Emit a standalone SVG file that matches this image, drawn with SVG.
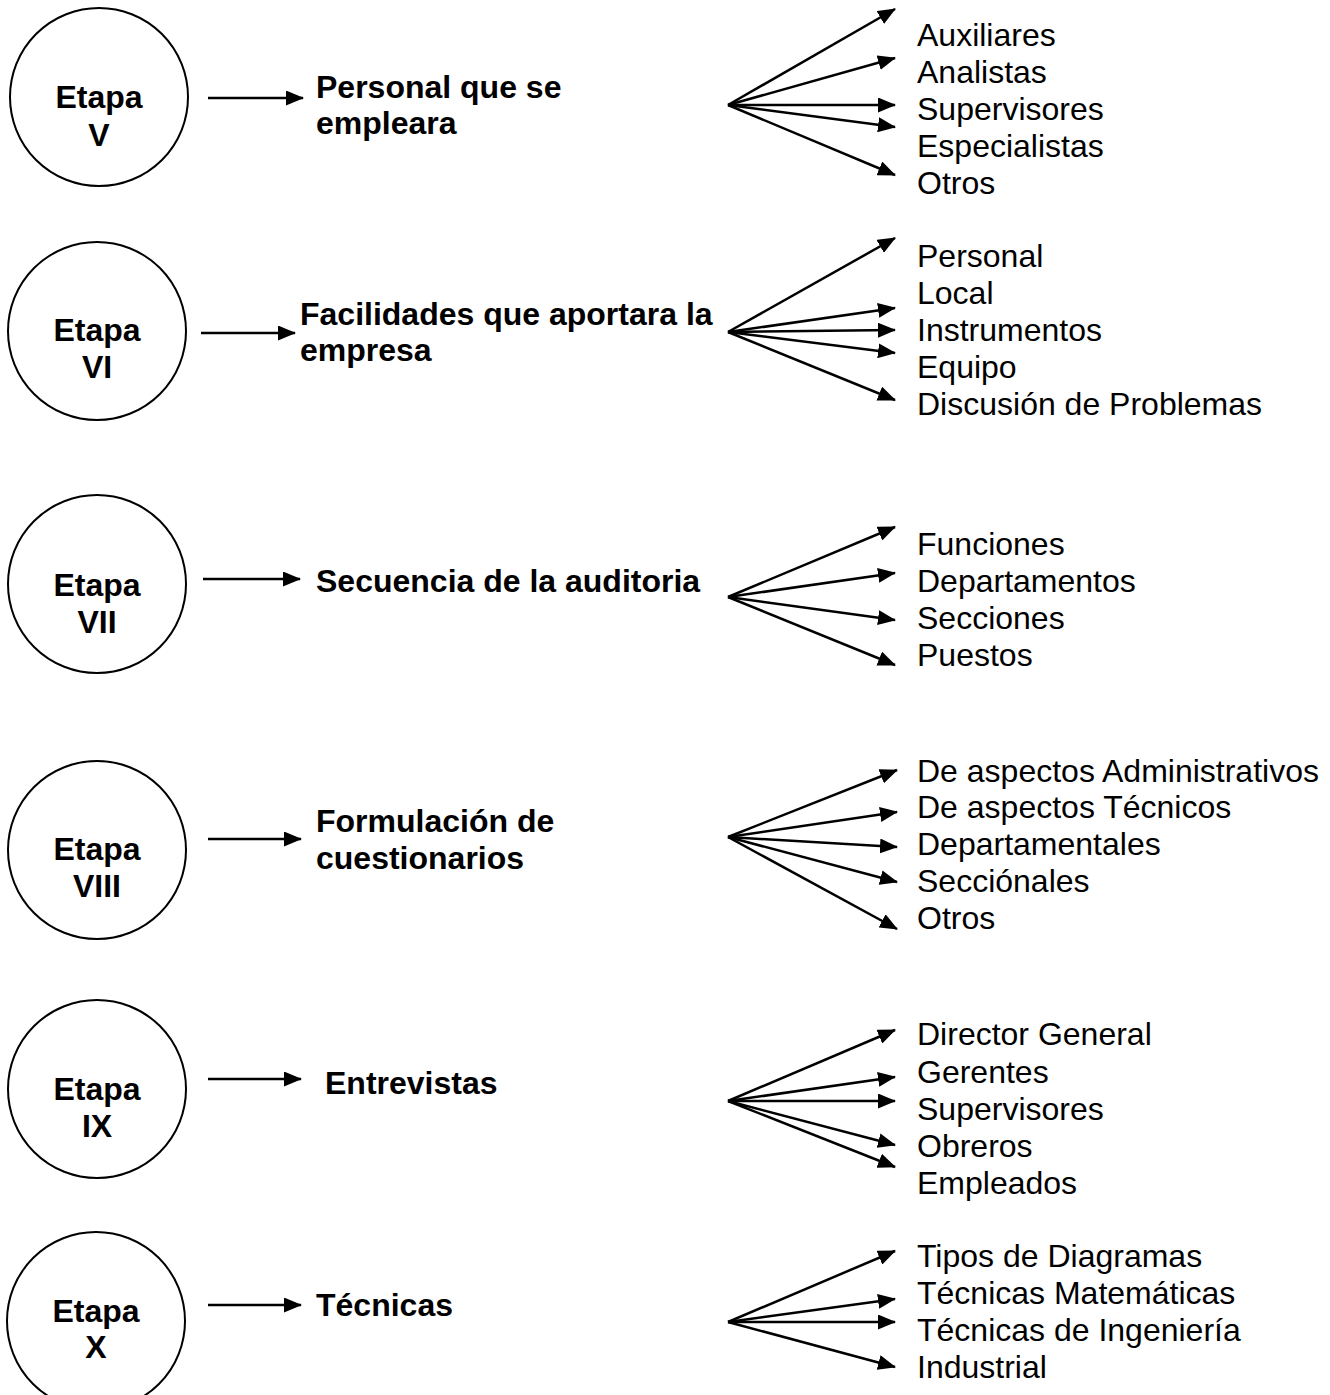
<svg xmlns="http://www.w3.org/2000/svg" width="1330" height="1395" viewBox="0 0 1330 1395">
<style>
.stage{fill:#fff;stroke:#000;stroke-width:2}
.lbl{font-family:"Liberation Sans",Arial,sans-serif;font-size:32px;fill:#000}
.b{font-weight:bold}
.c{text-anchor:middle}
.arr{stroke:#000;stroke-width:2.5;fill:none;marker-end:url(#ah)}
</style>
<defs>
<marker id="ah" viewBox="0 0 18 15" refX="17" refY="7.5" markerWidth="18" markerHeight="15" markerUnits="userSpaceOnUse" orient="auto">
<path d="M0,0 L18,7.5 L0,15 z" fill="#000"/>
</marker>
</defs>
<rect width="1330" height="1395" fill="#fff"/>

<g id="connectors">
<line class="arr" x1="208" y1="98" x2="303" y2="98"/>
<line class="arr" x1="728" y1="105" x2="895" y2="9"/>
<line class="arr" x1="728" y1="105" x2="895" y2="58"/>
<line class="arr" x1="728" y1="105" x2="895" y2="105"/>
<line class="arr" x1="728" y1="105" x2="895" y2="127"/>
<line class="arr" x1="728" y1="105" x2="895" y2="175"/>

<line class="arr" x1="201" y1="333" x2="295" y2="333"/>
<line class="arr" x1="728" y1="332" x2="895" y2="238"/>
<line class="arr" x1="728" y1="332" x2="895" y2="308"/>
<line class="arr" x1="728" y1="332" x2="895" y2="330"/>
<line class="arr" x1="728" y1="332" x2="895" y2="353"/>
<line class="arr" x1="728" y1="332" x2="895" y2="400"/>

<line class="arr" x1="203" y1="579" x2="300" y2="579"/>
<line class="arr" x1="728" y1="597" x2="895" y2="527"/>
<line class="arr" x1="728" y1="597" x2="895" y2="573"/>
<line class="arr" x1="728" y1="597" x2="895" y2="620"/>
<line class="arr" x1="728" y1="597" x2="895" y2="665"/>

<line class="arr" x1="208" y1="839" x2="301" y2="839"/>
<line class="arr" x1="728" y1="837" x2="897" y2="770"/>
<line class="arr" x1="728" y1="837" x2="897" y2="812"/>
<line class="arr" x1="728" y1="837" x2="897" y2="847"/>
<line class="arr" x1="728" y1="837" x2="897" y2="882"/>
<line class="arr" x1="728" y1="837" x2="897" y2="929"/>

<line class="arr" x1="208" y1="1079" x2="301" y2="1079"/>
<line class="arr" x1="728" y1="1101" x2="895" y2="1030"/>
<line class="arr" x1="728" y1="1101" x2="895" y2="1077"/>
<line class="arr" x1="728" y1="1101" x2="895" y2="1101"/>
<line class="arr" x1="728" y1="1101" x2="895" y2="1145"/>
<line class="arr" x1="728" y1="1101" x2="895" y2="1167"/>

<line class="arr" x1="208" y1="1305" x2="301" y2="1305"/>
<line class="arr" x1="728" y1="1322" x2="895" y2="1251"/>
<line class="arr" x1="728" y1="1322" x2="895" y2="1299"/>
<line class="arr" x1="728" y1="1322" x2="895" y2="1322"/>
<line class="arr" x1="728" y1="1322" x2="895" y2="1367"/>
</g>

<g id="etapa-v">
<circle class="stage" cx="99" cy="97" r="89"/>
<text class="lbl b c" x="99" y="108">Etapa</text>
<text class="lbl b c" x="99" y="146">V</text>
</g>
<g id="personal">
<text class="lbl b" x="316" y="98">Personal que se</text>
<text class="lbl b" x="316" y="134">empleara</text>
</g>
<g id="items-v">
<text class="lbl" x="917" y="46">Auxiliares</text>
<text class="lbl" x="917" y="83">Analistas</text>
<text class="lbl" x="917" y="120">Supervisores</text>
<text class="lbl" x="917" y="157">Especialistas</text>
<text class="lbl" x="917" y="194">Otros</text>
</g>

<g id="etapa-vi">
<circle class="stage" cx="97" cy="331" r="89"/>
<text class="lbl b c" x="97" y="341">Etapa</text>
<text class="lbl b c" x="97" y="378">VI</text>
</g>
<g id="facilidades">
<text class="lbl b" x="300" y="325">Facilidades que aportara la</text>
<text class="lbl b" x="300" y="361">empresa</text>
</g>
<g id="items-vi">
<text class="lbl" x="917" y="267">Personal</text>
<text class="lbl" x="917" y="304">Local</text>
<text class="lbl" x="917" y="341">Instrumentos</text>
<text class="lbl" x="917" y="378">Equipo</text>
<text class="lbl" x="917" y="415">Discusión de Problemas</text>
</g>

<g id="etapa-vii">
<circle class="stage" cx="97" cy="584" r="89"/>
<text class="lbl b c" x="97" y="596">Etapa</text>
<text class="lbl b c" x="97" y="633">VII</text>
</g>
<g id="secuencia">
<text class="lbl b" x="316" y="592">Secuencia de la auditoria</text>
</g>
<g id="items-vii">
<text class="lbl" x="917" y="555">Funciones</text>
<text class="lbl" x="917" y="592">Departamentos</text>
<text class="lbl" x="917" y="629">Secciones</text>
<text class="lbl" x="917" y="666">Puestos</text>
</g>

<g id="etapa-viii">
<circle class="stage" cx="97" cy="850" r="89"/>
<text class="lbl b c" x="97" y="860">Etapa</text>
<text class="lbl b c" x="97" y="897">VIII</text>
</g>
<g id="formulacion">
<text class="lbl b" x="316" y="832">Formulación de</text>
<text class="lbl b" x="316" y="869">cuestionarios</text>
</g>
<g id="items-viii">
<text class="lbl" x="917" y="782">De aspectos Administrativos</text>
<text class="lbl" x="917" y="818">De aspectos Técnicos</text>
<text class="lbl" x="917" y="855">Departamentales</text>
<text class="lbl" x="917" y="892">Secciónales</text>
<text class="lbl" x="917" y="929">Otros</text>
</g>

<g id="etapa-ix">
<circle class="stage" cx="97" cy="1089" r="89"/>
<text class="lbl b c" x="97" y="1100">Etapa</text>
<text class="lbl b c" x="97" y="1137">IX</text>
</g>
<g id="entrevistas">
<text class="lbl b" x="325" y="1094">Entrevistas</text>
</g>
<g id="items-ix">
<text class="lbl" x="917" y="1045">Director General</text>
<text class="lbl" x="917" y="1083">Gerentes</text>
<text class="lbl" x="917" y="1120">Supervisores</text>
<text class="lbl" x="917" y="1157">Obreros</text>
<text class="lbl" x="917" y="1194">Empleados</text>
</g>

<g id="etapa-x">
<circle class="stage" cx="96" cy="1321" r="89"/>
<text class="lbl b c" x="96" y="1322">Etapa</text>
<text class="lbl b c" x="96" y="1358">X</text>
</g>
<g id="tecnicas">
<text class="lbl b" x="316" y="1316">Técnicas</text>
</g>
<g id="items-x">
<text class="lbl" x="917" y="1267">Tipos de Diagramas</text>
<text class="lbl" x="917" y="1304">Técnicas Matemáticas</text>
<text class="lbl" x="917" y="1341">Técnicas de Ingeniería</text>
<text class="lbl" x="917" y="1378">Industrial</text>
</g>
</svg>
